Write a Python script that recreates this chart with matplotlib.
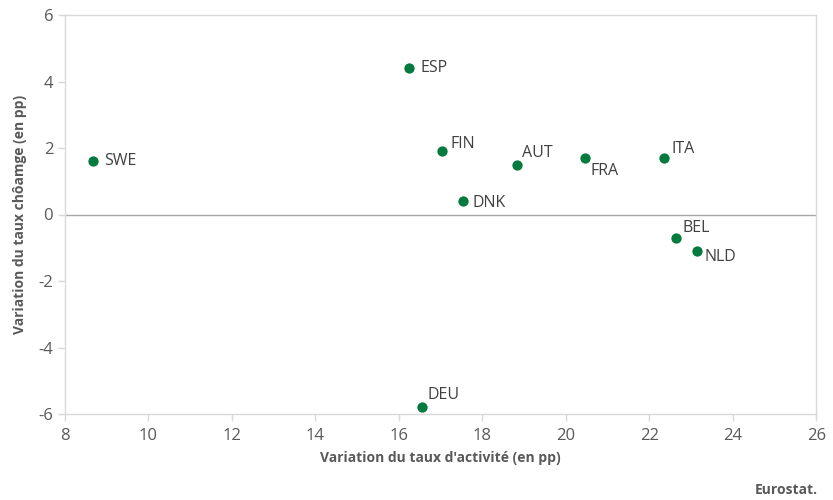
import matplotlib.pyplot as plt

# variation du taux d'activite vs variation du taux de chomage, en pp
countries = ["SWE", "ESP", "FIN", "AUT", "FRA", "ITA", "DNK", "BEL", "NLD", "DEU"]
activite = [8.67, 16.25, 17.04, 18.84, 20.45, 22.34, 17.54, 22.63, 23.13, 16.56]
chomage = [1.6, 4.4, 1.9, 1.5, 1.7, 1.7, 0.4, -0.7, -1.1, -5.8]
x_ticks = [8, 10, 12, 14, 16, 18, 20, 22, 24, 26]
y_ticks = [-6, -4, -2, 0, 2, 4, 6]

# label offsets in pixels (dx, dy)
offsets = {
    "SWE": (11, 0), "ESP": (11, 0), "FIN": (8, 7), "AUT": (5, 12),
    "FRA": (6, -13), "ITA": (8, 9), "DNK": (9, -2), "BEL": (7, 10),
    "NLD": (8, -6), "DEU": (5, 12),
}

plt.rcParams['font.family'] = ['Open Sans', 'DejaVu Sans']
plt.rcParams['axes.unicode_minus'] = False
green = "#047A3E"
grey = "#595959"
border = "#D9D9D9"

fig = plt.figure(figsize=(8.33, 5), dpi=100)
ax = fig.add_axes([0.078, 0.172, 0.902, 0.798])

ax.axhline(0, color="#A6A6A6", lw=1, zorder=1)
ax.scatter(activite, chomage, s=55, color=green, zorder=3, linewidths=0)

for name, xv, yv in zip(countries, activite, chomage):
    dx, dy = offsets[name]
    ax.annotate(name, (xv, yv), xytext=(dx, dy), textcoords='offset pixels',
                ha='left', va='center', fontsize=11.5, color="#404040")

ax.set_xlim(8, 26)
ax.set_ylim(-6, 6)
ax.set_xticks(x_ticks)
ax.set_yticks(y_ticks)
ax.tick_params(colors=border, labelcolor=grey, labelsize=12, length=5, width=1)
ax.tick_params(axis='x', pad=5)
for sp in ax.spines.values():
    sp.set_color(border)
    sp.set_linewidth(1)

ax.set_xlabel("Variation du taux d'activité (en pp)", fontsize=10,
              fontweight='bold', color=grey, labelpad=5)
ax.set_ylabel("Variation du taux chôamge (en pp)", fontsize=10,
              fontweight='bold', color=grey, labelpad=8)

fig.text(0.982, 0.006, "Eurostat.", ha='right', va='bottom', fontsize=10,
         fontweight='bold', color=grey)

fig.savefig("out.png", dpi=100)
